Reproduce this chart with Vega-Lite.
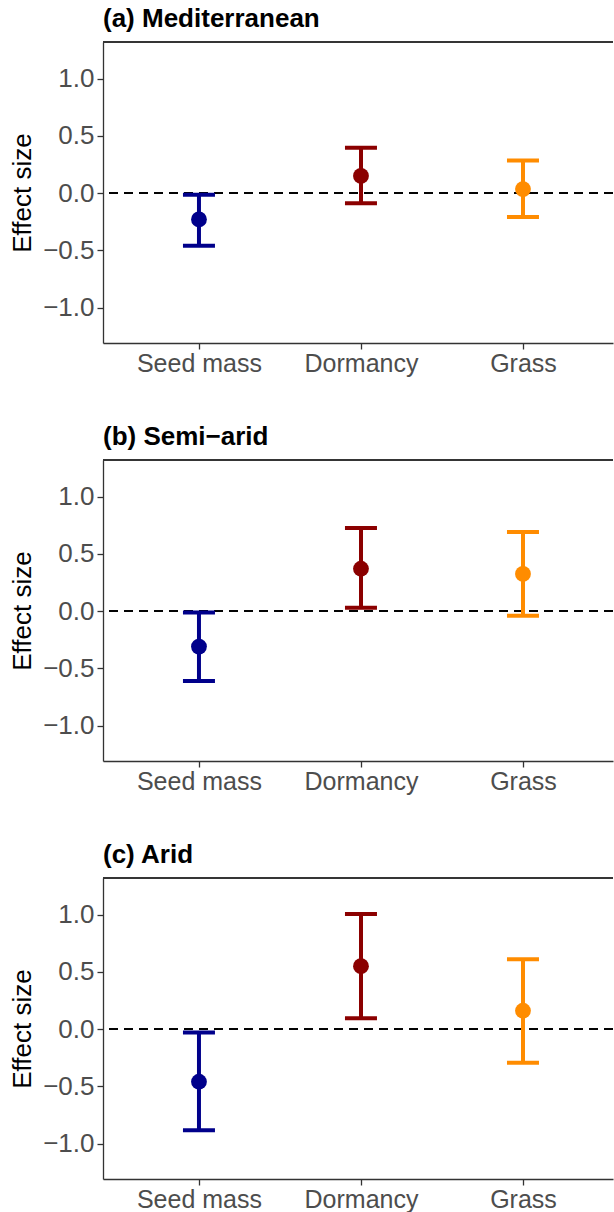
{
  "$schema": "https://vega.github.io/schema/vega-lite/v6.json",
  "padding": {"left": 9, "top": 6, "right": 0, "bottom": 0},
  "background": "white",
  "bounds": "flush",
  "spacing": 117,
  "datasets": {
    "effects": [
      {"panel": "a", "trait": "Seed mass", "est": -0.23, "lo": -0.46, "hi": -0.015},
      {"panel": "a", "trait": "Dormancy", "est": 0.15, "lo": -0.09, "hi": 0.395},
      {"panel": "a", "trait": "Grass", "est": 0.035, "lo": -0.21, "hi": 0.285},
      {"panel": "b", "trait": "Seed mass", "est": -0.31, "lo": -0.61, "hi": -0.012},
      {"panel": "b", "trait": "Dormancy", "est": 0.37, "lo": 0.028, "hi": 0.725},
      {"panel": "b", "trait": "Grass", "est": 0.325, "lo": -0.04, "hi": 0.69},
      {"panel": "c", "trait": "Seed mass", "est": -0.46, "lo": -0.885, "hi": -0.03},
      {"panel": "c", "trait": "Dormancy", "est": 0.55, "lo": 0.095, "hi": 1.005},
      {"panel": "c", "trait": "Grass", "est": 0.16, "lo": -0.295, "hi": 0.61}
    ]
  },
  "config": {
    "view": {"stroke": null},
    "font": "Liberation Sans",
    "axis": {
      "grid": false,
      "domainColor": "#333333",
      "domainWidth": 1.3,
      "tickColor": "#333333",
      "tickWidth": 1.3,
      "tickSize": 6,
      "labelFont": "Liberation Sans",
      "labelFontSize": 26,
      "labelColor": "#4D4D4D",
      "titleFont": "Liberation Sans",
      "titleFontSize": 26,
      "titleFontWeight": "normal",
      "titleColor": "black"
    },
    "title": {
      "anchor": "start",
      "frame": "group",
      "font": "Liberation Sans",
      "fontSize": 26,
      "fontWeight": "bold",
      "color": "black",
      "offset": 9
    }
  },
  "vconcat": [
    {
      "title": "(a) Mediterranean",
      "width": 510, "height": 301,
      "data": {"name": "effects"},
      "transform": [{"filter": "datum.panel === 'a'"}],
      "encoding": {
        "x": {"field": "trait", "type": "nominal", "sort": ["Seed mass", "Dormancy", "Grass"],
              "scale": {"type": "point", "padding": 0.574, "align": 0.516},
              "axis": {"title": null, "labelAngle": 0, "labelPadding": 2, "labelFontSize": 25}},
        "color": {"field": "trait", "type": "nominal",
                  "scale": {"domain": ["Seed mass", "Dormancy", "Grass"], "range": ["#00008B", "#8B0000", "#FF8C00"]},
                  "legend": null}
      },
      "layer": [
        {"mark": {"type": "rule", "color": "black", "strokeDash": [9, 6], "strokeWidth": 1.5},
         "encoding": {"y": {"datum": 0, "type": "quantitative"}, "x": null, "color": null}},
        {"mark": {"type": "rule", "color": "#333333", "strokeWidth": 1.3},
         "encoding": {"y": {"datum": 1.32, "type": "quantitative"}, "x": null, "color": null}},
        {"mark": {"type": "rule", "strokeWidth": 4},
         "encoding": {
           "y": {"field": "lo", "type": "quantitative",
                 "scale": {"domain": [-1.31, 1.32], "nice": false, "zero": false},
                 "axis": {"title": "Effect size", "values": [-1, -0.5, 0, 0.5, 1], "format": ".1f", "labelPadding": 3, "titlePadding": 7}},
           "y2": {"field": "hi"}}},
        {"mark": {"type": "tick", "size": 32, "thickness": 4, "opacity": 1},
         "encoding": {"y": {"field": "lo", "type": "quantitative"}}},
        {"mark": {"type": "tick", "size": 32, "thickness": 4, "opacity": 1},
         "encoding": {"y": {"field": "hi", "type": "quantitative"}}},
        {"mark": {"type": "circle", "size": 250, "opacity": 1},
         "encoding": {"y": {"field": "est", "type": "quantitative"}}}
      ]
    },
    {
      "title": "(b) Semi\u2212arid",
      "width": 510, "height": 301,
      "data": {"name": "effects"},
      "transform": [{"filter": "datum.panel === 'b'"}],
      "encoding": {
        "x": {"field": "trait", "type": "nominal", "sort": ["Seed mass", "Dormancy", "Grass"],
              "scale": {"type": "point", "padding": 0.574, "align": 0.516},
              "axis": {"title": null, "labelAngle": 0, "labelPadding": 2, "labelFontSize": 25}},
        "color": {"field": "trait", "type": "nominal",
                  "scale": {"domain": ["Seed mass", "Dormancy", "Grass"], "range": ["#00008B", "#8B0000", "#FF8C00"]},
                  "legend": null}
      },
      "layer": [
        {"mark": {"type": "rule", "color": "black", "strokeDash": [9, 6], "strokeWidth": 1.5},
         "encoding": {"y": {"datum": 0, "type": "quantitative"}, "x": null, "color": null}},
        {"mark": {"type": "rule", "color": "#333333", "strokeWidth": 1.3},
         "encoding": {"y": {"datum": 1.32, "type": "quantitative"}, "x": null, "color": null}},
        {"mark": {"type": "rule", "strokeWidth": 4},
         "encoding": {
           "y": {"field": "lo", "type": "quantitative",
                 "scale": {"domain": [-1.31, 1.32], "nice": false, "zero": false},
                 "axis": {"title": "Effect size", "values": [-1, -0.5, 0, 0.5, 1], "format": ".1f", "labelPadding": 3, "titlePadding": 7}},
           "y2": {"field": "hi"}}},
        {"mark": {"type": "tick", "size": 32, "thickness": 4, "opacity": 1},
         "encoding": {"y": {"field": "lo", "type": "quantitative"}}},
        {"mark": {"type": "tick", "size": 32, "thickness": 4, "opacity": 1},
         "encoding": {"y": {"field": "hi", "type": "quantitative"}}},
        {"mark": {"type": "circle", "size": 250, "opacity": 1},
         "encoding": {"y": {"field": "est", "type": "quantitative"}}}
      ]
    },
    {
      "title": "(c) Arid",
      "width": 510, "height": 301,
      "data": {"name": "effects"},
      "transform": [{"filter": "datum.panel === 'c'"}],
      "encoding": {
        "x": {"field": "trait", "type": "nominal", "sort": ["Seed mass", "Dormancy", "Grass"],
              "scale": {"type": "point", "padding": 0.574, "align": 0.516},
              "axis": {"title": null, "labelAngle": 0, "labelPadding": 2, "labelFontSize": 25}},
        "color": {"field": "trait", "type": "nominal",
                  "scale": {"domain": ["Seed mass", "Dormancy", "Grass"], "range": ["#00008B", "#8B0000", "#FF8C00"]},
                  "legend": null}
      },
      "layer": [
        {"mark": {"type": "rule", "color": "black", "strokeDash": [9, 6], "strokeWidth": 1.5},
         "encoding": {"y": {"datum": 0, "type": "quantitative"}, "x": null, "color": null}},
        {"mark": {"type": "rule", "color": "#333333", "strokeWidth": 1.3},
         "encoding": {"y": {"datum": 1.32, "type": "quantitative"}, "x": null, "color": null}},
        {"mark": {"type": "rule", "strokeWidth": 4},
         "encoding": {
           "y": {"field": "lo", "type": "quantitative",
                 "scale": {"domain": [-1.31, 1.32], "nice": false, "zero": false},
                 "axis": {"title": "Effect size", "values": [-1, -0.5, 0, 0.5, 1], "format": ".1f", "labelPadding": 3, "titlePadding": 7}},
           "y2": {"field": "hi"}}},
        {"mark": {"type": "tick", "size": 32, "thickness": 4, "opacity": 1},
         "encoding": {"y": {"field": "lo", "type": "quantitative"}}},
        {"mark": {"type": "tick", "size": 32, "thickness": 4, "opacity": 1},
         "encoding": {"y": {"field": "hi", "type": "quantitative"}}},
        {"mark": {"type": "circle", "size": 250, "opacity": 1},
         "encoding": {"y": {"field": "est", "type": "quantitative"}}}
      ]
    }
  ]
}
